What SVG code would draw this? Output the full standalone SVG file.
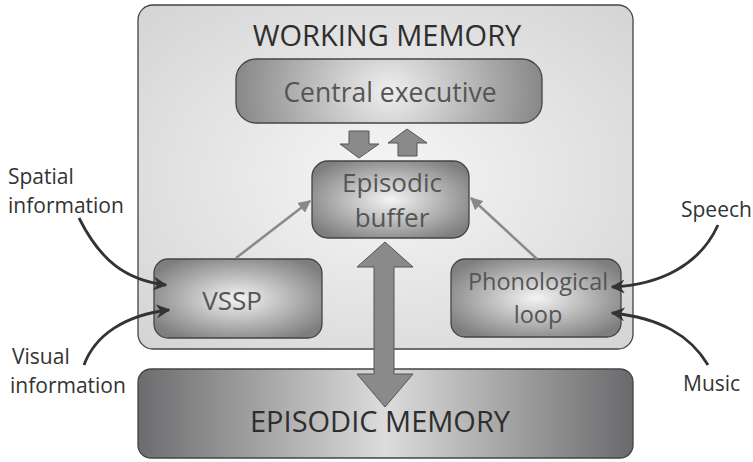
<svg xmlns="http://www.w3.org/2000/svg" width="753" height="462" viewBox="0 0 753 462">
<defs>
<radialGradient id="gOuter" cx="0.5" cy="0.5" r="0.7">
<stop offset="0" stop-color="#f6f6f6"/>
<stop offset="1" stop-color="#d4d4d4"/>
</radialGradient>
<radialGradient id="gBox" cx="0.5" cy="0.5" r="0.6">
<stop offset="0" stop-color="#f4f4f4"/>
<stop offset="1" stop-color="#7e7e7e"/>
</radialGradient>
<radialGradient id="gCE" cx="0.5" cy="0.5" r="0.55" gradientTransform="translate(0.5 0.5) scale(1 4) translate(-0.5 -0.5)">
<stop offset="0" stop-color="#efefef"/>
<stop offset="1" stop-color="#7e7e7e"/>
</radialGradient>
<linearGradient id="gEM" x1="0" y1="0" x2="1" y2="0">
<stop offset="0" stop-color="#6c6c6e"/>
<stop offset="0.5" stop-color="#dcdcdc"/>
<stop offset="1" stop-color="#6a6a6c"/>
</linearGradient>
<marker id="mGray" viewBox="0 0 10 10" refX="9" refY="5" markerWidth="5" markerHeight="5" orient="auto">
<path d="M0,0 L10,5 L0,10 z" fill="#888"/>
</marker>
<marker id="mDark" viewBox="0 0 10 10" refX="9" refY="5" markerWidth="5" markerHeight="5" orient="auto">
<path d="M0,0 L10,5 L0,10 L3,5 z" fill="#333"/>
</marker>
</defs>
<style>
.box{stroke:#444;stroke-width:1.3}
.t{font-family:"Open Sans","Noto Sans","Liberation Sans",sans-serif;text-anchor:middle}
.in{fill:#555}
.lab{font-family:"Open Sans","Noto Sans","Liberation Sans",sans-serif;fill:#333;font-size:21px}
.big{fill:#2e2e2e}
.blk{fill:#8a8a8a;stroke:#555;stroke-width:1}
.gl{stroke:#8a8a8a;stroke-width:2.5;fill:none}
.dl{stroke:#333;stroke-width:2.8;fill:none}
</style>

<g id="working-memory">
<rect class="box" x="138" y="5" width="495" height="344" rx="15" fill="url(#gOuter)"/>
<text class="t big" x="387" y="46" font-size="29">WORKING MEMORY</text>
</g>

<g id="central-executive">
<rect class="box" x="236" y="59" width="306" height="64" rx="20" fill="url(#gCE)"/>
<text class="t in" x="390" y="102" font-size="26.5">Central executive</text>
</g>

<g id="episodic-buffer">
<rect class="box" x="312" y="161" width="157" height="77" rx="16" fill="url(#gBox)"/>
<text class="t in" x="392" y="192" font-size="26">Episodic</text>
<text class="t in" x="392" y="227" font-size="26">buffer</text>
</g>

<g id="vssp">
<rect class="box" x="154" y="259" width="168" height="79" rx="14" fill="url(#gBox)"/>
<text class="t in" x="232" y="310" font-size="26">VSSP</text>
</g>

<g id="phonological-loop">
<rect class="box" x="451" y="259" width="170" height="78" rx="14" fill="url(#gBox)"/>
<text class="t in" x="538" y="290" font-size="23.5">Phonological</text>
<text class="t in" x="538" y="323" font-size="23.5">loop</text>
</g>

<g id="episodic-memory">
<rect class="box" x="138" y="369" width="495" height="89" rx="13" fill="url(#gEM)"/>
<text class="t big" x="380" y="432" font-size="29">EPISODIC MEMORY</text>
</g>

<g id="spatial-information">
<text class="lab" x="8" y="184">Spatial</text>
<text class="lab" x="8" y="213">information</text>
</g>
<g id="visual-information">
<text class="lab" x="12" y="364">Visual</text>
<text class="lab" x="10" y="393">information</text>
</g>
<g id="speech">
<text class="lab" x="681" y="217" font-size="20">Speech</text>
</g>
<g id="music">
<text class="lab" x="683" y="391">Music</text>
</g>

<g id="connectors">
<path class="blk" d="M349,131 L369,131 L369,144 L379,144 L359,158 L340,144 L349,144 Z"/>
<path class="blk" d="M407,129 L427,143 L417,143 L417,156 L398,156 L398,143 L388,143 Z"/>
<path class="blk" d="M385,242 L413,267 L394,267 L394,374 L413,374 L385,407 L357,374 L374,374 L374,267 L357,267 Z"/>
<path class="gl" d="M236,258 L310,201" marker-end="url(#mGray)"/>
<path class="gl" d="M537,259 L471,198" marker-end="url(#mGray)"/>
<path class="dl" d="M79,218 C100,260 125,280 166,285" marker-end="url(#mDark)"/>
<path class="dl" d="M84,365 C95,335 125,315 169,310" marker-end="url(#mDark)"/>
<path class="dl" d="M718,225 C700,265 660,285 612,287" marker-end="url(#mDark)"/>
<path class="dl" d="M708,365 C690,335 660,318 612,313" marker-end="url(#mDark)"/>
</g>
</svg>
